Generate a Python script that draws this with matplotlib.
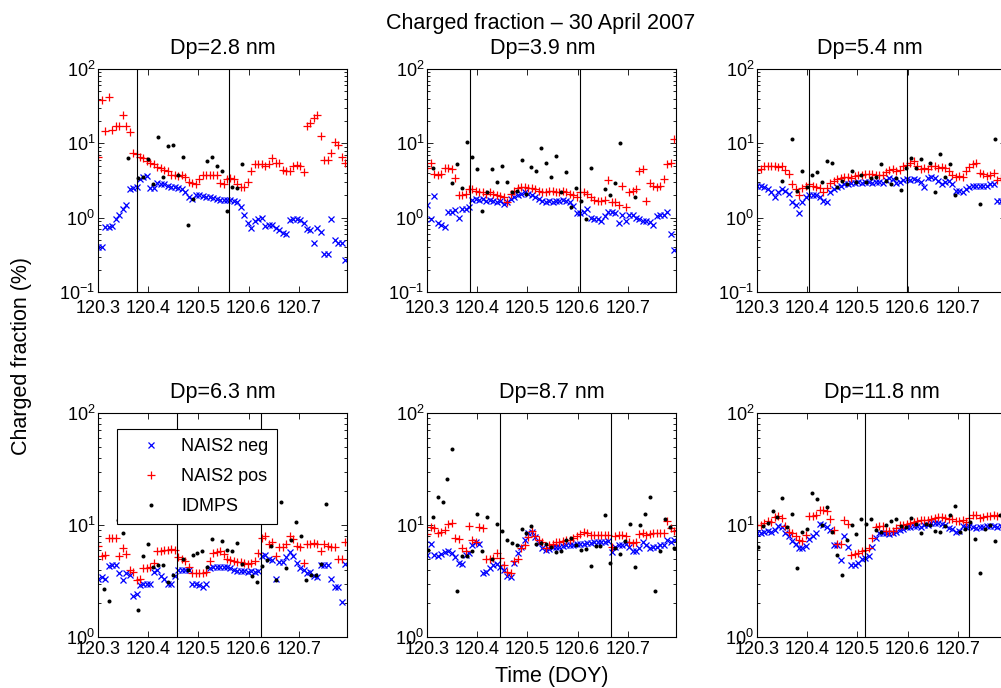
import numpy as np
import matplotlib.pyplot as plt

plt.rcParams['font.family'] = ['Liberation Sans', 'DejaVu Sans']
plt.rcParams['mathtext.fontset'] = 'custom'
plt.rcParams['mathtext.rm'] = 'Liberation Sans'

# time axes (day of year)
t_nais = 120.30 + np.arange(72) / 144.0
t_idmps = 120.301 + 0.00985 * np.arange(51)
nan = np.nan

titles = ['Dp=2.8 nm', 'Dp=3.9 nm', 'Dp=5.4 nm', 'Dp=6.3 nm', 'Dp=8.7 nm', 'Dp=11.8 nm']
xticks = [120.3, 120.4, 120.5, 120.6, 120.7]
xticklabels = ['120.3', '120.4', '120.5', '120.6', '120.7']

# vertical marker lines per panel
vlines = [[120.378, 120.561], [120.385, 120.604], [120.404, 120.598],
          [120.458, 120.625], [120.446, 120.667], [120.516, 120.723]]

# Dp = 2.8 nm
neg_28 = [0.40, 0.40, 0.76, 0.76, 0.78, 0.95, 1.1, 1.3, 1.5, 2.4,
          2.5, 2.6, 3.3, 3.5, 3.6, 2.5, 2.5, 2.9, 2.8, 2.8,
          2.7, 2.6, 2.6, 2.5, 2.4, 2.2, 1.9, 1.8, 2.0, 2.0,
          1.95, 1.9, 1.9, 1.85, 1.8, 1.75, 1.75, 1.75, 1.75, 1.7,
          1.65, 1.4, 1.1, 0.85, 0.72, 0.9, 0.95, 1.0, 0.78, 0.8,
          0.8, 0.72, 0.68, 0.63, 0.6, 0.93, 0.95, 0.95, 0.92, 0.85,
          0.7, 0.68, 0.45, 0.72, 0.65, 0.32, 0.32, 0.95, 0.5, 0.46,
          0.45, 0.27]
pos_28 = [6.5, 38, 14.5, 42, 15, 17, 17, 24, 17, 14,
          7.5, 7.2, 6.5, 6.3, 5.7, 5.5, 5.3, 4.8, 4.6, 4.4,
          4.2, 3.8, 3.7, 3.6, 3.7, 3.5, 3.0, 2.9, 2.8, 3.3,
          3.7, 3.8, 3.8, 3.8, 3.7, 2.9, 2.8, 3.3, 3.4, 3.3,
          2.8, 2.6, 2.6, 3.0, 4.3, 5.2, 5.2, 5.2, 5.0, 5.3,
          6.3, 5.4, 5.5, 4.4, 4.3, 4.3, 5.0, 5.1, 4.9, 4.1,
          17, 19, 22, 24, 12.5, 6.0, 6.0, 7.5, 10.5, 9.5,
          6.5, 5.5]
idmps_28 = [nan, nan, nan, nan, nan, nan, 6.4, nan, 3.4, 3.5,
            6.1, 2.8, 12.0, 3.5, 9.1, 9.4, 3.7, 6.6, 0.79, 1.8,
            nan, nan, 5.8, 6.5, 5.0, 4.3, 1.23, 2.6, 2.5, 5.2,
            nan, nan, nan, nan, nan, nan, nan, nan, nan, nan,
            nan, nan, nan, nan, nan, nan, nan, nan, nan, nan, nan]

# Dp = 3.9 nm
neg_39 = [1.5, 0.95, 1.95, 0.85, 0.8, 0.75, 1.2, 1.2, 1.25, 1.0,
          1.3, 1.3, 1.4, 1.75, 1.8, 1.75, 1.8, 1.7, 1.75, 1.7,
          1.6, 1.7, 1.55, 1.6, 1.8, 1.9, 2.0, 2.1, 2.2, 2.1,
          2.0, 1.9, 1.8, 1.7, 1.65, 1.7, 1.65, 1.7, 1.7, 1.75,
          1.7, 1.6, 1.45, 1.15, 1.15, 1.2, 1.3, 1.0, 0.95, 0.95,
          0.9, 1.05, 1.2, 1.2, 1.15, 0.85, 1.1, 0.9, 1.1, 1.1,
          1.0, 0.95, 0.9, 0.9, 0.88, 0.8, 1.05, 1.1, 1.1, 1.2,
          0.6, 0.37]
pos_39 = [4.6, 5.4, 3.9, 3.8, 3.9, 4.6, 4.6, 4.5, 3.4, 2.0,
          2.0, 2.1, 2.4, 2.4, 2.3, 2.2, 2.2, 2.1, 2.2, 2.1,
          2.0, 1.95, 1.9, 1.65, 2.1, 2.3, 2.5, 2.6, 2.6, 2.5,
          2.5, 2.4, 2.3, 2.2, 2.2, 2.3, 2.3, 2.2, 2.2, 2.3,
          2.2, 2.1, 2.0, 1.9, 2.2, 2.2, 2.1, 1.9, 1.75, 1.7,
          1.7, 1.75, 3.2, 1.6, 1.6, 1.5, 2.7, 1.4, 2.2, 2.3,
          2.4, 4.3, 4.5, 1.7, 2.9, 2.7, 2.6, 2.7, 3.3, 5.3,
          5.4, 11.5]
idmps_39 = [nan, 4.7, nan, nan, nan, 2.9, 5.2, 2.5, 10.3, 6.6,
            4.5, 1.22, 2.2, 4.5, 3.0, 5.0, 3.0, 2.2, 2.3, 5.9,
            2.1, 4.8, 4.2, 8.7, 5.4, 3.5, 6.7, 2.2, 4.1, 1.4,
            2.5, 1.7, 0.97, 4.6, nan, nan, 2.4, 2.0, 2.9, 10.2,
            nan, nan, 1.9, nan, nan, nan, nan, nan, nan, nan, nan]

# Dp = 5.4 nm
neg_54 = [2.7, 2.7, 2.6, 2.4, 2.2, 1.9, 2.2, 2.4, 2.3, 2.1,
          1.6, 1.5, 1.15, 1.6, 1.9, 2.0, 2.0, 2.0, 1.9, 1.7,
          1.6, 2.2, 2.4, 2.6, 2.7, 2.8, 2.8, 2.9, 2.9, 3.0,
          2.9, 3.0, 3.0, 2.9, 3.0, 3.0, 2.9, 3.2, 3.4, 3.3,
          2.9, 3.0, 3.2, 3.3, 3.2, 3.3, 3.2, 3.0, 2.6, 3.4,
          3.5, 3.4, 3.1, 2.8, 3.0, 3.1, 2.8, 2.3, 2.3, 2.2,
          2.4, 2.6, 2.7, 2.7, 2.7, 2.7, 2.7, 2.8, 2.8, 1.7,
          1.7, 1.7]
pos_54 = [4.4, 4.5, 4.9, 5.0, 5.0, 4.9, 4.8, 5.0, 4.4, 3.9,
          2.8, 2.4, 2.0, 2.5, 2.7, 2.8, 2.7, 2.6, 2.5, 2.2,
          2.5, 2.9, 3.1, 3.3, 3.4, 3.5, 3.5, 3.4, 3.6, 3.8,
          3.8, 3.9, 3.9, 3.9, 3.8, 3.7, 3.8, 4.1, 4.4, 4.5,
          4.3, 4.4, 5.0, 5.1, 5.5, 5.8, 4.9, 4.5, 4.6, 4.5,
          5.0, 4.9, 4.6, 4.8, 4.6, 4.3, 3.7, 3.5, 3.6, 3.5,
          4.2, 4.8, 5.3, 5.4, 4.0, 3.9, 3.6, 3.7, 4.0, 3.2,
          3.4, 3.3]
idmps_54 = [nan, nan, nan, nan, nan, 3.1, nan, 11.3, 2.3, 4.2,
            2.6, 3.7, 4.1, 3.05, 5.8, 5.4, 2.55, 3.1, 2.8, 4.3,
            3.0, 3.8, 3.0, 3.4, 3.5, 5.3, 3.1, 2.8, 3.4, 2.35,
            4.6, 6.3, 4.6, 6.1, nan, 5.5, 2.2, 7.2, 3.5, 5.3,
            2.0, nan, nan, nan, nan, 1.55, nan, nan, 11.3, nan, nan]

# Dp = 6.3 nm
neg_63 = [3.3, 3.4, 3.3, 4.3, 4.4, 4.4, 3.7, 3.2, 3.7, 3.6,
          2.3, 2.4, 2.9, 3.0, 3.0, 3.0, 3.8, 4.0, 3.5, 3.3,
          3.0, 3.0, 3.5, 4.0, 4.0, 4.0, 4.0, 3.0, 3.0, 2.9,
          2.8, 3.0, 4.1, 4.2, 4.2, 4.2, 4.2, 4.2, 4.1, 4.0,
          3.9, 3.9, 3.9, 3.8, 3.9, 3.8, 3.9, 5.3, 5.4, 5.0,
          4.9, 3.3, 4.7, 4.7, 5.2, 5.7, 5.3, 4.6, 4.1, 4.0,
          3.7, 3.8, 3.5, 3.4, 4.4, 4.4, 4.4, 3.3, 2.8, 2.8,
          2.05, 4.5]
pos_63 = [6.5, 5.3, 5.4, 7.6, 7.6, 7.7, 5.3, 6.2, 5.5, 4.0,
          3.8, 3.2, 3.3, 4.1, 4.1, 4.2, 4.6, 5.9, 5.9, 6.0,
          6.0, 6.1, 6.0, 5.2, 5.0, 4.8, 4.2, 3.7, 3.7, 3.7,
          3.7, 3.8, 4.8, 5.6, 5.7, 5.8, 5.5, 5.0, 4.9, 4.8,
          4.7, 4.7, 4.6, 4.5, 4.6, 4.8, 5.6, 7.6, 7.9, 6.8,
          7.0, 5.3, 6.3, 6.4, 6.8, 8.0, 7.5, 6.5, 6.4, 4.6,
          6.7, 6.8, 6.9, 6.8, 5.8, 6.7, 6.5, 6.4, 6.3, 5.0,
          5.0, 7.1]
idmps_63 = [nan, 2.7, 2.1, nan, 11.0, 8.5, nan, nan, 1.73, 5.3,
            6.8, 4.2, 4.35, 4.35, 3.1, 3.6, nan, 5.0, 3.95, 5.4,
            5.6, 5.8, 4.2, 7.5, nan, 7.25, 6.0, 5.9, 6.9, 4.5,
            nan, 3.5, 3.1, 4.3, 4.9, 6.5, 3.2, 16.1, 4.15, 7.3,
            10.6, 7.9, 3.2, 3.6, 3.6, 4.5, 15.4, nan, nan, nan, nan]

# Dp = 8.7 nm
neg_87 = [5.4, 6.8, 5.4, 5.3, 5.5, 5.7, 5.9, 5.6, 5.2, 4.6,
          4.5, 5.4, 5.6, 6.6, 7.0, 6.8, 3.7, 3.8, 4.1, 4.4,
          4.5, 4.2, 4.0, 3.5, 3.4, 4.6, 5.6, 6.4, 7.3, 8.4,
          8.7, 7.8, 6.9, 6.2, 6.0, 6.1, 6.3, 6.4, 6.4, 6.5,
          6.6, 6.6, 6.6, 6.7, 6.8, 6.8, 6.9, 6.9, 7.0, 7.0,
          7.1, 7.1, 7.2, 5.7, 6.4, 6.6, 6.6, 6.7, 6.3, 5.9,
          5.8, 6.2, 7.0, 6.6, 6.2, 6.3, 6.4, 6.6, 6.6, 7.4,
          7.0, 7.3]
pos_87 = [8.3, 9.6, 9.4, 8.5, 8.6, 9.0, 10.2, 10.4, 7.6, 7.5,
          6.2, 5.9, 9.7, 7.3, 7.1, 9.6, 9.4, 5.0, 5.0, 5.1,
          5.6, 5.1, 4.4, 3.8, 3.7, 4.8, 5.0, 6.2, 6.6, 7.8,
          8.8, 8.0, 7.3, 7.0, 6.2, 6.6, 6.8, 7.0, 7.1, 7.2,
          7.3, 7.4, 7.6, 7.9, 8.3, 8.6, 8.4, 8.2, 8.1, 8.1,
          8.1, 8.1, 8.2, 6.3, 8.0, 8.1, 8.1, 8.0, 7.0, 6.9,
          7.0, 8.3, 8.4, 8.2, 8.3, 8.4, 8.4, 8.5, 8.5, 10.8,
          9.4, 8.8]
idmps_87 = [6.0, 11.7, 17.9, 15.9, 25.6, 48, 2.6, 5.3, 5.3, 5.8,
            12.5, 5.8, 11.7, 5.0, 10.2, 8.9, 7.3, 6.9, 6.6, 9.2,
            8.4, 9.7, 6.8, 6.9, 6.8, 6.4, 5.7, 5.8, 7.3, 7.6,
            6.6, 6.0, 6.1, 4.3, 6.5, 6.5, 12.3, 4.6, 6.2, 5.5,
            7.2, 10.3, 4.2, 10.0, 12.5, 17.7, 2.6, 5.9, 11.2, 9.5, 6.2]

# Dp = 11.8 nm
neg_118 = [8.4, 8.5, 8.7, 8.8, 8.7, 9.0, 9.7, 9.5, 8.5, 8.0,
           7.2, 6.7, 6.2, 6.2, 6.5, 7.5, 7.9, 8.5, 10.3, 10.0,
           9.6, 9.0, 6.6, 6.6, 4.9, 8.0, 6.4, 4.4, 4.4, 4.6,
           5.0, 5.1, 5.3, 6.4, 7.7, 8.4, 8.5, 8.4, 8.3, 8.4,
           8.6, 9.0, 9.3, 9.6, 9.6, 9.7, 9.8, 9.6, 9.9, 10.1,
           10.4, 10.4, 10.5, 10.2, 10.0, 9.4, 9.3, 8.7, 8.8, 9.7,
           9.6, 9.8, 9.5, 9.4, 9.5, 9.6, 9.7, 9.8, 9.7, 9.5,
           9.7, 9.7]
pos_118 = [10.0, 10.1, 10.5, 10.8, 10.6, 11.8, 12.0, 11.5, 9.7, 8.6,
           8.4, 7.9, 7.3, 7.2, 8.1, 12.0, 12.1, 12.2, 13.7, 13.5,
           13.2, 11.2, 9.0, 6.7, 6.8, 11.0, 10.2, 5.4, 5.5, 5.6,
           5.8, 6.0, 6.2, 7.6, 9.6, 9.8, 9.8, 8.9, 8.8, 8.9,
           9.4, 10.0, 10.1, 10.3, 10.5, 10.7, 10.8, 11.0, 11.1, 11.0,
           11.2, 11.6, 11.9, 11.8, 11.5, 11.3, 11.2, 10.9, 10.8, 11.0,
           10.7, 11.6, 12.2, 12.3, 11.6, 11.8, 12.0, 12.1, 12.2, 12.1,
           12.2, 12.2]
idmps_118 = [6.3, 9.7, 10.5, 13.3, 11.9, 17.3, 9.5, 12.5, 4.1, 8.7,
             9.3, 19.2, 17.1, 10.0, 14.6, 8.7, 5.4, 3.6, 7.4, 9.9,
             8.3, 11.2, 10.3, 11.2, 9.0, 8.7, 10.0, 10.9, 11.2, 9.7,
             9.6, 11.5, 10.2, 8.5, 10.2, 10.0, 8.9, 8.7, 9.7, 12.3,
             14.9, 8.6, 9.3, 10.7, 7.5, 3.7, 9.2, 10.0, 7.2, 12.3, nan]

negs = [neg_28, neg_39, neg_54, neg_63, neg_87, neg_118]
poss = [pos_28, pos_39, pos_54, pos_63, pos_87, pos_118]
idmpss = [idmps_28, idmps_39, idmps_54, idmps_63, idmps_87, idmps_118]

W, H = 1001, 688
fig = plt.figure(figsize=(W / 100, H / 100), dpi=100)

lefts = [98, 427, 757]
bottoms = [292, 637]
heights = [223, 224]
title_x = [0.5, 0.466, 0.454, 0.5, 0.5, 0.5]

for p in range(6):
    r, c = p // 3, p % 3
    ax = fig.add_axes([lefts[c] / W, (H - bottoms[r]) / H, 249 / W, heights[r] / H])
    l1, = ax.plot(t_nais, negs[p], 'x', color='#0000ff', ms=4.6, mew=0.9, ls='none')
    l2, = ax.plot(t_nais, poss[p], '+', color='#ff0000', ms=6.2, mew=0.9, ls='none')
    l3, = ax.plot(t_idmps, idmpss[p], 'o', color='k', ms=2.9, mew=0, ls='none')
    for v in vlines[p]:
        ax.axvline(v, color='k', lw=0.8)
    ax.set_yscale('log')
    ax.set_ylim((0.1, 100) if r == 0 else (1, 100))
    ax.set_xlim(120.2995, 120.7965)
    ax.set_xticks(xticks)
    ax.set_xticklabels(xticklabels)
    ax.tick_params(which='both', direction='in', top=True, right=True, labelsize=13, width=0.6)
    ax.tick_params(which='major', length=4)
    ax.tick_params(which='minor', length=2)
    ax.tick_params(axis='x', pad=6 if r == 0 else 3)
    ax.tick_params(axis='y', pad=2)
    for s in ax.spines.values():
        s.set_linewidth(0.8)
    ax.set_title(titles[p], fontsize=15.5, pad=10.8, x=title_x[p])
    if p == 3:
        leg = ax.legend([l1, l2, l3], ['NAIS2 neg', 'NAIS2 pos', 'IDMPS'],
                        loc='upper left', bbox_to_anchor=(0.076, 0.929), borderaxespad=0,
                        fontsize=13, fancybox=False, edgecolor='k', framealpha=1,
                        handlelength=2.8, handletextpad=0.25, borderpad=0.5,
                        labelspacing=0.72, numpoints=1)
        leg.get_frame().set_linewidth(0.8)

fig.text(541 / W, 1 - 29 / H, 'Charged fraction – 30 April 2007', ha='center', va='baseline', fontsize=15.5)
fig.text(22 / W, 1 - 356 / H, 'Charged fraction (%)', rotation=90, ha='center', va='center', fontsize=15.5)
fig.text(552 / W, 1 - 682 / H, 'Time (DOY)', ha='center', va='baseline', fontsize=15.5)

fig.savefig('out.png', dpi=100)
